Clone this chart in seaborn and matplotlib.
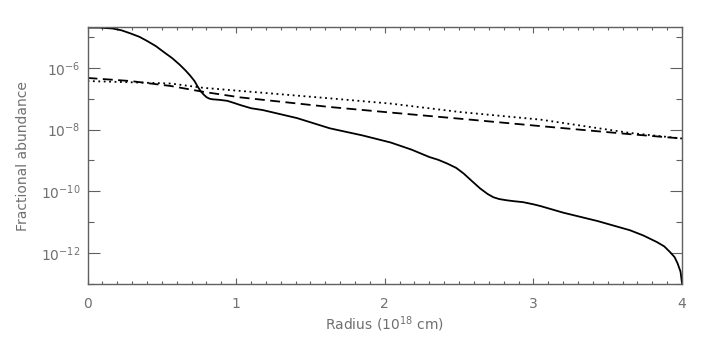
import matplotlib
matplotlib.use("Agg")
import matplotlib.pyplot as plt
import matplotlib.ticker as mticker
import numpy as np
import pandas as pd
import seaborn as sns

# values (radius in 1e18 cm, log10 of abundance)
solid_r = [0.0, 0.08, 0.17, 0.23, 0.29, 0.35, 0.40, 0.46, 0.51, 0.57, 0.62, 0.66,
           0.69, 0.72, 0.74, 0.76, 0.78, 0.80, 0.82, 0.84, 0.89, 0.94, 0.98, 1.03,
           1.10, 1.18, 1.41, 1.63, 1.85, 2.04, 2.18, 2.30, 2.36, 2.42, 2.48, 2.53,
           2.58, 2.64, 2.69, 2.73, 2.77, 2.82, 2.87, 2.93, 3.00, 3.05, 3.20, 3.43,
           3.65, 3.74, 3.83, 3.88, 3.92, 3.95, 3.97, 3.99, 4.0]
solid_log = [-4.70, -4.70, -4.73, -4.79, -4.89, -5.00, -5.13, -5.30, -5.48, -5.69,
             -5.90, -6.09, -6.25, -6.43, -6.60, -6.75, -6.86, -6.95, -7.00, -7.02,
             -7.04, -7.07, -7.13, -7.21, -7.31, -7.37, -7.63, -7.96, -8.19, -8.42,
             -8.65, -8.89, -8.98, -9.10, -9.24, -9.42, -9.64, -9.90, -10.08, -10.19,
             -10.25, -10.29, -10.32, -10.35, -10.42, -10.48, -10.69, -10.96, -11.26,
             -11.43, -11.64, -11.78, -11.97, -12.13, -12.33, -12.60, -12.98]

dashed_r = [0.0, 0.29, 0.56, 0.78, 1.03, 1.63, 2.04, 2.53, 3.05, 3.65, 4.0]
dashed_log = [-6.33, -6.43, -6.59, -6.78, -6.96, -7.27, -7.45, -7.66, -7.89, -8.15, -8.29]

dotted_r = [0.0, 0.29, 0.56, 0.78, 1.03, 1.63, 2.04, 2.50, 3.05, 3.65, 4.0]
dotted_log = [-6.43, -6.47, -6.51, -6.65, -6.75, -6.99, -7.16, -7.43, -7.68, -8.11, -8.29]

y_major = [1e-12, 1e-10, 1e-8, 1e-6]
y_minor = [1e-13, 1e-11, 1e-9, 1e-7, 1e-5]

sns.set_style("ticks")
plt.rcParams["font.family"] = ["DejaVu Sans"]

GREY_TEXT = "#707070"
GREY_AXIS = "#606060"

fig = plt.figure(figsize=(7.08, 3.40), dpi=100)
ax = fig.add_axes([0.1236, 0.1647, 0.8397, 0.755])

curves = [
    (solid_r, solid_log, "-"),
    (dashed_r, dashed_log, (0, (5.5, 3))),
    (dotted_r, dotted_log, (0, (1, 2))),
]
for r, lg, ls in curves:
    df = pd.DataFrame({"r": r, "y": 10.0 ** np.array(lg)})
    sns.lineplot(data=df, x="r", y="y", ax=ax, color="black", linewidth=1.3,
                 linestyle=ls, sort=False)

ax.set_yscale("log")
ax.set_xlim(0, 4)
ax.set_ylim(1e-13, 2.04e-5)

ax.xaxis.set_major_locator(mticker.MultipleLocator(1))
ax.xaxis.set_minor_locator(mticker.MultipleLocator(0.1))
ax.xaxis.set_major_formatter(mticker.FormatStrFormatter("%d"))
ax.yaxis.set_major_locator(mticker.FixedLocator(y_major))
ax.yaxis.set_minor_locator(mticker.FixedLocator(y_minor))
ax.yaxis.set_minor_formatter(mticker.NullFormatter())

ax.tick_params(axis="both", which="both", direction="in", top=True, right=True,
               color=GREY_AXIS, labelcolor=GREY_TEXT, labelsize=10)
ax.tick_params(axis="x", which="major", length=4.5, width=0.8, pad=9)
ax.tick_params(axis="x", which="minor", length=2.5, width=0.8)
ax.tick_params(axis="y", which="major", length=8.6, width=0.8, pad=5)
ax.tick_params(axis="y", which="minor", length=4.5, width=0.8)

for sp in ax.spines.values():
    sp.set_color(GREY_AXIS)
    sp.set_linewidth(1.0)

ax.set_xlabel("Radius (10$^{18}$ cm)", color=GREY_TEXT, fontsize=10, labelpad=3)
ax.set_ylabel("Fractional abundance", color=GREY_TEXT, fontsize=10, labelpad=8)

fig.savefig("out.png", dpi=100)
